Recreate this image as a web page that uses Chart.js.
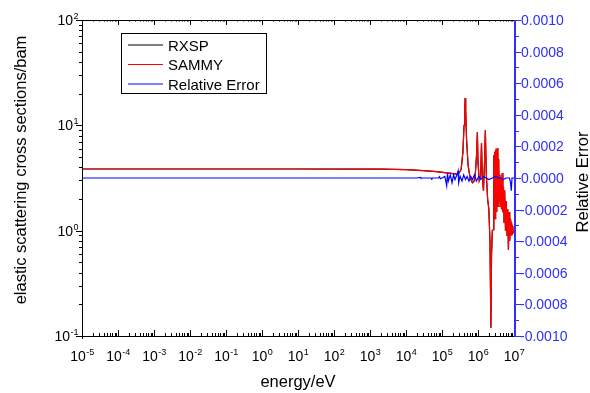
<!DOCTYPE html>
<html>
  <head>
   <meta charset='utf-8'>
   <title>Elastic scattering</title>
   <script src="https://cdn.jsdelivr.net/npm/chart.js@4.4.0/dist/chart.umd.min.js"></script>
   <style>
     body { margin: 0; background: #fff; }
   </style>
  </head>
  <body>
    <canvas id="chart_xs" width="590" height="393"></canvas>
    <script>
      // cross section (barn) vs energy (eV), RXSP and SAMMY overlap
      var energy = [1e-5, 1e-3, 1e-1, 1e1, 1e3, 2e3, 1e4, 3e4, 7e4, 1.2e5, 2e5, 2.8e5, 3.4e5, 3.8e5, 4.1e5, 4.3e5, 4.4e5,
        4.55e5, 4.8e5, 5.3e5, 6e5, 7e5, 7.8e5, 8.5e5, 9.2e5, 9.6e5, 1.0e6, 1.08e6, 1.18e6, 1.25e6, 1.32e6, 1.42e6,
        1.52e6, 1.6e6, 1.7e6, 1.85e6, 2.0e6, 2.15e6, 2.28e6, 2.38e6, 2.5e6, 2.65e6, 2.75e6, 2.82e6, 2.9e6, 2.98e6,
        3.05e6, 3.12e6, 3.2e6, 3.28e6, 3.36e6, 3.45e6, 3.55e6, 3.65e6, 3.75e6, 3.9e6, 4.05e6, 4.2e6, 4.35e6, 4.5e6,
        4.7e6, 4.9e6, 5.1e6, 5.3e6, 5.5e6, 5.8e6, 6.1e6, 6.4e6, 6.7e6, 7.0e6, 7.3e6, 7.6e6, 8.0e6, 8.4e6, 8.8e6,
        9.3e6, 1e7];
      var xs_rxsp = [3.85, 3.85, 3.85, 3.85, 3.84, 3.84, 3.79, 3.72, 3.63, 3.55, 3.48, 3.45, 3.8, 5.5, 10, 15, 18.2,
        14, 7.5, 4.2, 3.2, 2.85, 2.95, 3.6, 5.5, 8.6, 4.5, 3.0, 3.3, 6.8, 3.2, 2.4,
        4.5, 9.0, 3.5, 2.0, 1.6, 0.8, 0.12, 0.6, 1.0, 1.02, 5.2, 2.0, 5.6, 1.3,
        5.8, 1.8, 6.0, 1.5, 5.5, 2.2, 6.1, 1.7, 4.8, 1.9, 3.4, 1.7, 3.2, 1.6,
        3.5, 1.5, 2.6, 1.2, 2.4, 1.0, 1.9, 0.9, 1.6, 0.66, 1.5, 0.8, 1.3, 0.9, 1.1,
        0.95, 1.0];
      var xs_sammy = xs_rxsp.slice();

      // relative error between the two
      var err_energy = [1e-5, 1e3, 2e4, 2.5e4, 2.6e4, 5e4, 5.2e4, 5.4e4, 8e4, 8.5e4, 9e4, 1e5, 1.2e5, 1.35e5,
        1.42e5, 1.5e5, 1.7e5, 1.9e5, 2.1e5, 2.3e5, 2.6e5, 2.8e5, 2.9e5, 3.2e5, 3.6e5, 4e5, 4.5e5, 5e5, 5.6e5,
        6.3e5, 7e5, 8e5, 9e5, 1.05e6, 1.2e6, 1.4e6, 1.7e6, 2e6, 2.5e6, 3e6, 4e6, 5e6, 6e6, 7.5e6, 8e6, 8.4e6,
        8.8e6, 1e7];
      var rel_err = [0, 0, 0, 0.000004, 0, 0, -0.000004, 0, 0, 0.000008, -0.000005, 0, 0.00001, -0.00005,
        0.00003, -0.00002, 0.00002, -0.00003, 0.00002, -0.00001, 0.00002, 0.000045, -0.00003, 0.00001, -0.00002, 0.00002, -0.00001, 0.00001, -0.00002,
        0.00001, -0.00001, 0.00002, -0.00002, 0.00001, -0.00001, 0.00001, 0, -0.00001, 0, 0.00001, 0, -0.00001, 0, 0, -0.00003, -0.00008,
        0, 0];

      var x_decades = [-5, -4, -3, -2, -1, 0, 1, 2, 3, 4, 5, 6, 7];
      var y_decades = [-1, 0, 1, 2];
      var y1_ticks = [-0.001, -0.0008, -0.0006, -0.0004, -0.0002, 0, 0.0002, 0.0004, 0.0006, 0.0008, 0.001];

      function pts(xa, ya) {
        return xa.map(function(v, i) { return {x: v, y: ya[i]}; });
      }

      var FONT = '"Liberation Sans", Arial, sans-serif';
      var AXIS_BLUE = '#2f2fff';

      function powLabel(ctx, exp, cx, by, align, color) {
        ctx.fillStyle = color;
        ctx.textAlign = 'left';
        ctx.font = '14px ' + FONT;
        var w1 = ctx.measureText('10').width;
        ctx.font = '9px ' + FONT;
        var w2 = ctx.measureText(exp).width;
        var x0 = align == 'center' ? cx - (w1 + w2) / 2 : cx - (w1 + w2);
        ctx.font = '14px ' + FONT;
        ctx.fillText('10', x0, by);
        ctx.font = '9px ' + FONT;
        ctx.fillText(exp, x0 + w1 + 0.5, by - 6);
      }

      var axesPlugin = {
        id: 'originAxes',
        afterDraw: function(chart) {
          var ctx = chart.ctx;
          var a = chart.chartArea;
          var sx = chart.scales.x, sy = chart.scales.y, sy1 = chart.scales.y1;
          ctx.save();
          ctx.lineWidth = 1;
          ctx.strokeStyle = '#000';
          ctx.beginPath();
          ctx.moveTo(a.left, a.top + 0.5); ctx.lineTo(a.right, a.top + 0.5);
          ctx.moveTo(a.left + 0.5, a.top); ctx.lineTo(a.left + 0.5, a.bottom + 3);
          ctx.moveTo(a.left, a.bottom + 0.5); ctx.lineTo(a.right, a.bottom + 0.5);
          ctx.stroke();

          // x ticks, inward on bottom and top
          ctx.beginPath();
          x_decades.forEach(function(n) {
            var px = Math.round(sx.getPixelForValue(Math.pow(10, n))) + 0.5;
            ctx.moveTo(px, a.bottom); ctx.lineTo(px, a.bottom - 6);
            ctx.moveTo(px, a.top); ctx.lineTo(px, a.top + 5);
            if (n < 7) {
              for (var k = 2; k <= 9; k++) {
                var mx = Math.round(sx.getPixelForValue(k * Math.pow(10, n))) + 0.5;
                ctx.moveTo(mx, a.bottom); ctx.lineTo(mx, a.bottom - 3);
                ctx.moveTo(mx, a.top); ctx.lineTo(mx, a.top + 1.5);
              }
            }
          });
          // y ticks, outward on the left
          y_decades.forEach(function(n) {
            var py = Math.round(sy.getPixelForValue(Math.pow(10, n))) + 0.5;
            ctx.moveTo(a.left, py); ctx.lineTo(a.left - 6, py);
            if (n < 2) {
              for (var k = 2; k <= 9; k++) {
                var my = Math.round(sy.getPixelForValue(k * Math.pow(10, n))) + 0.5;
                ctx.moveTo(a.left, my); ctx.lineTo(a.left - 3, my);
              }
            }
          });
          ctx.stroke();

          x_decades.forEach(function(n) {
            powLabel(ctx, String(n), sx.getPixelForValue(Math.pow(10, n)), 361, 'center', '#000');
          });
          y_decades.forEach(function(n) {
            powLabel(ctx, String(n), a.left - 4, sy.getPixelForValue(Math.pow(10, n)) + 5, 'right', '#000');
          });

          // right axis in blue
          ctx.strokeStyle = AXIS_BLUE;
          ctx.lineWidth = 2;
          ctx.beginPath();
          ctx.moveTo(a.right + 1, a.top); ctx.lineTo(a.right + 1, a.bottom + 1);
          ctx.stroke();
          ctx.lineWidth = 1;
          ctx.beginPath();
          for (var i = -10; i <= 10; i++) {
            var py = Math.round(sy1.getPixelForValue(i / 10000)) + 0.5;
            ctx.moveTo(a.right + 1, py); ctx.lineTo(a.right + (i % 2 == 0 ? 7 : 5), py);
          }
          ctx.stroke();
          ctx.fillStyle = AXIS_BLUE;
          ctx.font = '14px ' + FONT;
          ctx.textAlign = 'left';
          y1_ticks.forEach(function(v) {
            var s = Math.abs(v).toFixed(4);
            if (v < 0) s = '-' + s;
            ctx.fillText(s, v < 0 ? 520 : 521, sy1.getPixelForValue(v) + 5);
          });

          // axis titles
          ctx.fillStyle = '#000';
          ctx.font = '16.5px ' + FONT;
          ctx.textAlign = 'center';
          ctx.fillText('energy/eV', (a.left + a.right) / 2, 387);
          ctx.save();
          ctx.translate(26, 170);
          ctx.rotate(-Math.PI / 2);
          ctx.fillText('elastic scattering cross sections/bam', 0, 0);
          ctx.restore();
          ctx.save();
          ctx.translate(588, 182);
          ctx.rotate(-Math.PI / 2);
          ctx.fillText('Relative Error', 0, 0);
          ctx.restore();

          // legend box
          ctx.strokeStyle = '#000';
          ctx.lineWidth = 1;
          ctx.strokeRect(121.5, 33.5, 145, 60);
          ctx.font = '15px ' + FONT;
          ctx.textAlign = 'left';
          chart.data.datasets.forEach(function(ds, i) {
            var ly = 45 + i * 19.5;
            ctx.strokeStyle = ds.borderColor;
            ctx.beginPath();
            ctx.moveTo(128, ly); ctx.lineTo(163, ly);
            ctx.stroke();
            ctx.fillStyle = '#000';
            ctx.fillText(ds.label, 168, ly + 5.5);
          });
          ctx.restore();
        }
      };

      var ctx_xs = document.getElementById("chart_xs").getContext("2d");
      var chart_xs = new Chart(ctx_xs, {
        type: "line",
        data: {'datasets': [
          {'label': 'RXSP', 'data': pts(energy, xs_rxsp), 'borderColor': '#000000', 'yAxisID': 'y', 'order': 2},
          {'label': 'SAMMY', 'data': pts(energy, xs_sammy), 'borderColor': '#ff0000', 'yAxisID': 'y', 'order': 1},
          {'label': 'Relative Error', 'data': pts(err_energy, rel_err), 'borderColor': '#0000ff', 'yAxisID': 'y1', 'order': 0}
        ]},
        options: {
          responsive: false,
          animation: false,
          layout: {padding: {left: 82, right: 76, top: 20, bottom: 57}},
          elements: {point: {radius: 0}, line: {borderWidth: 1.2, tension: 0}},
          scales: {
            x: {type: 'logarithmic', min: 1e-5, max: 1e7, display: false},
            y: {type: 'logarithmic', min: 0.1, max: 100, display: false},
            y1: {type: 'linear', min: -0.001, max: 0.001, display: false}
          },
          plugins: {legend: {display: false}, tooltip: {enabled: false}}
        },
        plugins: [axesPlugin]
      });
    </script>
  </body>
</html>
